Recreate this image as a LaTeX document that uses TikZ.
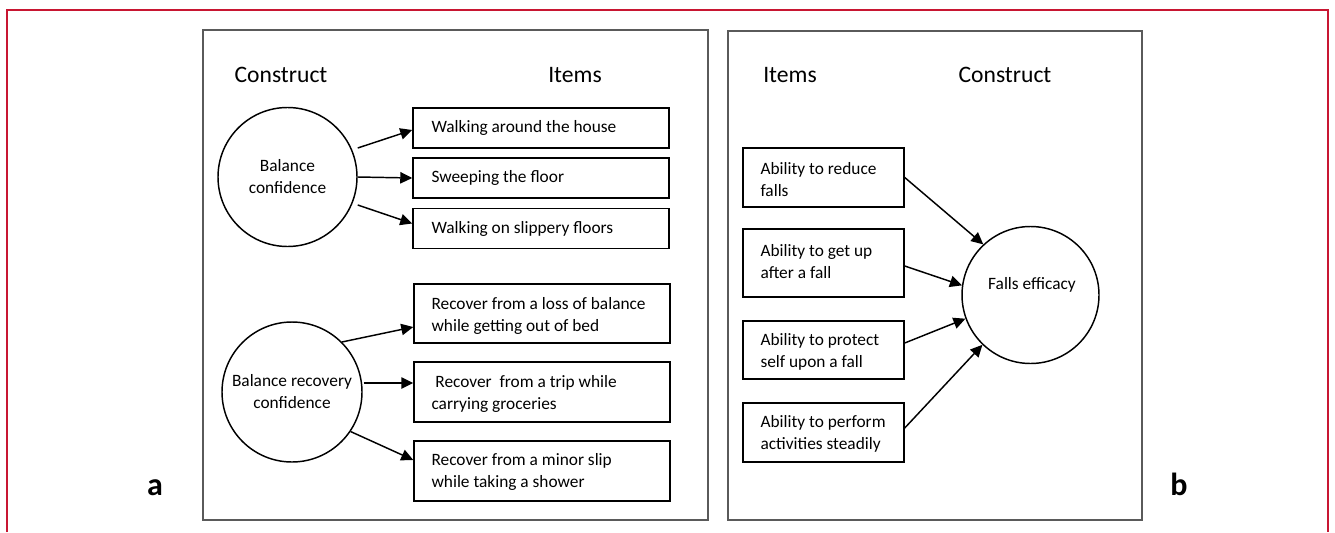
\documentclass[tikz,border=0pt]{standalone}
\usepackage{fontspec}
\setmainfont{Carlito}
\usetikzlibrary{arrows.meta,calc}
\definecolor{framered}{RGB}{200,22,50}
\definecolor{panelgray}{RGB}{90,90,90}
\begin{document}
\begin{tikzpicture}[x=0.75pt,y=-0.75pt,
  panel/.style={draw=panelgray,line width=1pt},
  frame/.style={draw=framered,line width=1.5pt},
  itembox/.style={draw=black,line width=1.1pt,inner sep=0pt,minimum width=192pt},
  ritembox/.style={draw=black,line width=1.1pt,inner sep=0pt,minimum width=120.75pt},
  itemtxt/.style={font=\fontsize{13}{16.5}\selectfont,align=left,anchor=west,inner sep=0pt},
  construct/.style={draw=black,line width=1.1pt,circle,inner sep=0pt,font=\fontsize{13}{16.5}\selectfont,align=center},
  header/.style={font=\fontsize{17.7}{21}\selectfont,anchor=base,inner sep=0pt},
  panellabel/.style={font=\fontsize{24}{28}\selectfont\bfseries,anchor=base,inner sep=0pt},
  arr/.style={line width=1.1pt,-{Triangle[length=9pt,width=8.5pt]}}
]
\useasboundingbox (0,0) rectangle (1335,532);
% outer frame
\draw[frame] (7,532) -- (7,10) -- (1328,10) -- (1328,532);
% panels
\draw[panel] (203,30) rectangle (708,520);
\draw[panel] (728,31) rectangle (1142,520);
% labels
\node[panellabel] (la) at (155,495) {a};
\node[panellabel] (lb) at (1179,495) {b};
% headers
\node[header] (h1) at (281,82) {Construct};
\node[header] (h2) at (575,82) {Items};
\node[header] (h3) at (790,82) {Items};
\node[header] (h4) at (1005,82) {Construct};
% left panel constructs
\node[construct,minimum size=104.25pt] (bc) at (287.5,177) {Balance\\confidence};
\node[construct,minimum size=105pt] (brc) at (292,392) {Balance recovery\\confidence};
% left panel items
\node[itembox,minimum height=30pt] (b1) at (541,128) {};
\node[itembox,minimum height=30pt] (b2) at (541,178) {};
\node[itembox,minimum height=30pt] (b3) at (541,228.5) {};
\node[itembox,minimum height=44.25pt] (b4) at (542,313.5) {};
\node[itembox,minimum height=45pt] (b5) at (542,392) {};
\node[itembox,minimum height=45pt] (b6) at (542,471) {};
\node[itemtxt] (t1) at ($(b1.west)+(19,0)$) {Walking around the house};
\node[itemtxt] (t2) at ($(b2.west)+(19,0)$) {Sweeping the floor};
\node[itemtxt] (t3) at ($(b3.west)+(19,0)$) {Walking on slippery floors};
\node[itemtxt] (t4) at ($(b4.west)+(18,2)$) {Recover from a loss of balance\\while getting out of bed};
\node[itemtxt] (t5) at ($(b5.west)+(18,2)$) {\ Recover\ \ from a trip while\\carrying groceries};
\node[itemtxt] (t6) at ($(b6.west)+(18,1)$) {Recover from a minor slip\\while taking a shower};
% left arrows
\draw[arr] ($(bc.east)+(0,-29)$) -- ($(b1.west)+(0,2)$);
\draw[arr] (bc.east) -- (b2.west);
\draw[arr] ($(bc.east)+(0,28)$) -- ($(b3.west)+(0,-5)$);
\draw[arr] (brc.45) -- ($(b4.west)+(0,13.5)$);
\draw[arr] ($(brc.east)+(1,-9)$) -- ($(b5.west)+(0,-9)$);
\draw[arr] (brc.-34) -- ($(b6.west)+(0,-11)$);
% right panel
\node[construct,minimum size=102.75pt] (fe) at (1030.5,295) {};
\node[itemtxt,anchor=center,align=center] (fet) at (1032,285) {Falls efficacy};
\node[ritembox,minimum height=44.25pt] (r1) at (823.5,177.5) {};
\node[ritembox,minimum height=51pt] (r2) at (823.5,263) {};
\node[ritembox,minimum height=43.5pt] (r3) at (823.5,350) {};
\node[ritembox,minimum height=44.25pt] (r4) at (823.5,432.5) {};
\node[itemtxt] (s1) at ($(r1.west)+(18,2)$) {Ability to reduce\\falls};
\node[itemtxt] (s2) at ($(r2.west)+(18,-1)$) {Ability to get up\\after a fall};
\node[itemtxt] (s3) at ($(r3.west)+(18,2)$) {Ability to protect\\self upon a fall};
\node[itemtxt] (s4) at ($(r4.west)+(18,1.5)$) {Ability to perform\\activities steadily};
\draw[arr] (r1.east) -- (fe.133);
\draw[arr] ($(r2.east)+(0,3)$) -- (fe.172);
\draw[arr] ($(r3.east)+(0,-7)$) -- (fe.200);
\draw[arr] ($(r4.east)+(0,-4.5)$) -- (fe.226);
\end{tikzpicture}
\end{document}
